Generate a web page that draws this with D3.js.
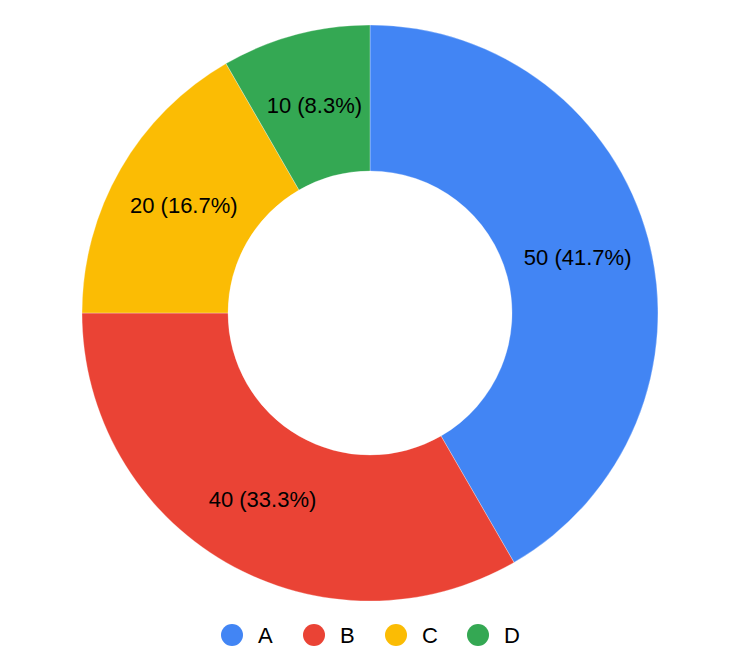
<!DOCTYPE html>
<html><head><meta charset="utf-8">
<script src="https://cdn.jsdelivr.net/npm/d3@7"></script>
<style>html,body{margin:0;padding:0;background:#fff;}svg{display:block;font-family:Arial,"Liberation Sans",sans-serif;}</style>
</head><body>
<svg id="chart" width="740" height="671"></svg>
<script>
const categories = ["A", "B", "C", "D"];
const values = [50, 40, 20, 10];
const colors = ["#4285F4", "#EA4335", "#FBBC04", "#34A853"];

const svg = d3.select("#chart");
const cx = 370, cy = 313, outerR = 288, innerR = 142;
const total = d3.sum(values);
const data = categories.map((c, i) => ({cat: c, value: values[i], color: colors[i]}));

const pie = d3.pie().value(d => d.value).sort(null);
const arc = d3.arc().innerRadius(innerR).outerRadius(outerR);
const labelArc = d3.arc().innerRadius((innerR + outerR) / 2).outerRadius((innerR + outerR) / 2);

const g = svg.append("g").attr("transform", `translate(${cx},${cy})`);
const arcs = pie(data);
g.selectAll("path").data(arcs).enter().append("path")
  .attr("d", arc).attr("fill", d => d.data.color)
  .attr("stroke", "#fff").attr("stroke-width", 0.3);

g.selectAll("text").data(arcs).enter().append("text")
  .attr("transform", d => `translate(${labelArc.centroid(d)})`)
  .attr("text-anchor", "middle").attr("dy", "0.35em")
  .attr("font-size", 22).attr("fill", "#000")
  .text(d => `${d.data.value} (${(d.data.value / total * 100).toFixed(1)}%)`);

const legendX = d3.scalePoint().domain(categories).range([232, 478]);
const lg = svg.append("g");
const items = lg.selectAll("g").data(data).enter().append("g")
  .attr("transform", d => `translate(${legendX(d.cat)},635)`);
items.append("circle").attr("r", 11).attr("fill", d => d.color);
items.append("text").attr("x", 26).attr("dy", "0.35em")
  .attr("font-size", 22).attr("fill", "#000").text(d => d.cat);
</script>
</body></html>
